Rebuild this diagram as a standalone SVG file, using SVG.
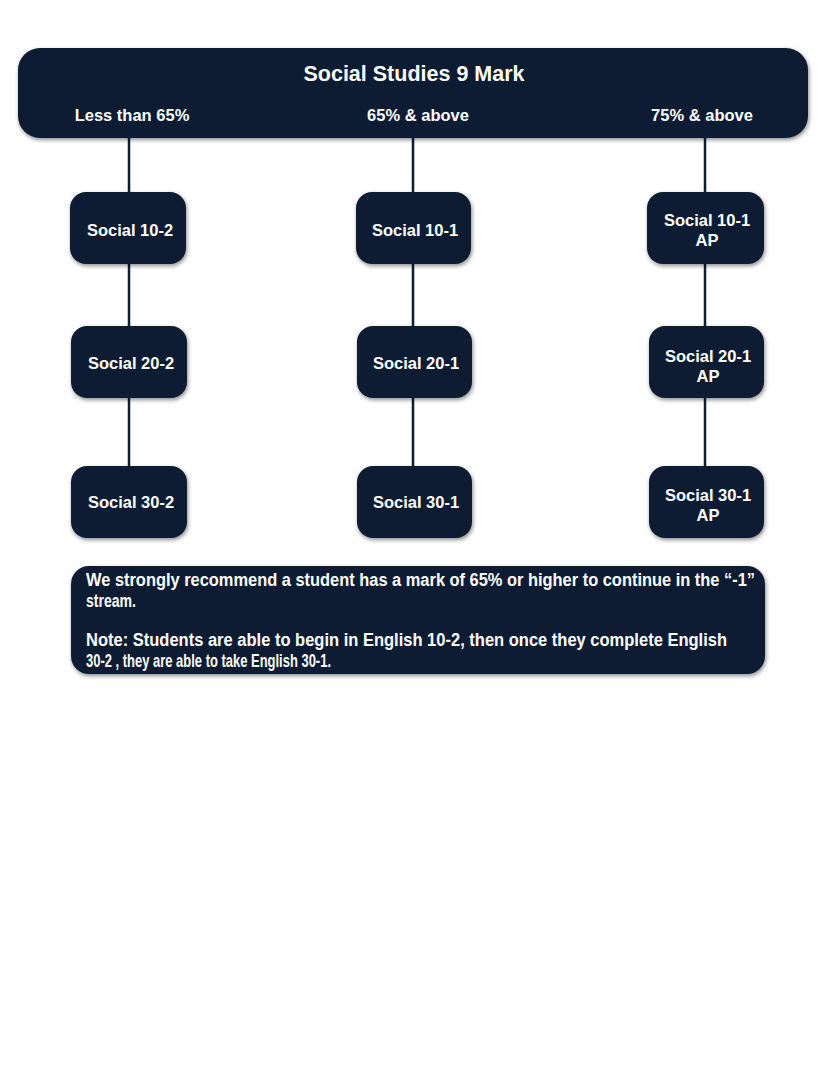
<svg xmlns="http://www.w3.org/2000/svg" width="830" height="1074" viewBox="0 0 830 1074">
<defs>
<filter id="sh" x="-10%" y="-10%" width="120%" height="130%">
<feDropShadow dx="1" dy="2" stdDeviation="2" flood-color="#000" flood-opacity="0.45"/>
</filter>
</defs>
<style>
.box{fill:#0f1e33;filter:url(#sh)}
.t{font-family:"Liberation Sans",Arial,sans-serif;font-weight:bold;fill:#fff;text-anchor:middle;font-size:16.5px}
.h{font-size:21.5px}
.n{font-family:"Liberation Sans",Arial,sans-serif;font-weight:bold;fill:#fff;font-size:18px}
.c{stroke:#0f1e33;stroke-width:2.5;fill:none}
</style>
<rect width="830" height="1074" fill="#fff"/>
<g id="connectors">
<path class="c" d="M129 138V192M129 264V326M129 398V466"/>
<path class="c" d="M413 138V192M413 264V326M413 398V466"/>
<path class="c" d="M705 138V192M705 264V326M705 398V466"/>
</g>
<g id="header">
<rect class="box" x="18" y="48" width="790" height="90" rx="22"/>
<text class="t h" x="414" y="81">Social Studies 9 Mark</text>
<text class="t" x="132" y="121">Less than 65%</text>
<text class="t" x="418" y="121">65% &amp; above</text>
<text class="t" x="702" y="121">75% &amp; above</text>
</g>
<g id="s102"><rect class="box" x="70" y="192" width="116" height="72" rx="16"/><text class="t" x="130" y="236">Social 10-2</text></g>
<g id="s202"><rect class="box" x="71" y="326" width="116" height="72" rx="16"/><text class="t" x="131" y="369">Social 20-2</text></g>
<g id="s302"><rect class="box" x="71" y="466" width="116" height="72" rx="16"/><text class="t" x="131" y="508">Social 30-2</text></g>
<g id="s101"><rect class="box" x="356" y="192" width="115" height="72" rx="16"/><text class="t" x="415" y="236">Social 10-1</text></g>
<g id="s201"><rect class="box" x="357" y="326" width="115" height="72" rx="16"/><text class="t" x="416" y="369">Social 20-1</text></g>
<g id="s301"><rect class="box" x="357" y="466" width="115" height="72" rx="16"/><text class="t" x="416" y="508">Social 30-1</text></g>
<g id="s101ap"><rect class="box" x="647" y="192" width="117" height="72" rx="16"/><text class="t" x="707" y="226">Social 10-1</text><text class="t" x="707" y="246">AP</text></g>
<g id="s201ap"><rect class="box" x="649" y="326" width="115" height="72" rx="16"/><text class="t" x="708" y="362">Social 20-1</text><text class="t" x="708" y="382">AP</text></g>
<g id="s301ap"><rect class="box" x="649" y="466" width="115" height="72" rx="16"/><text class="t" x="708" y="501">Social 30-1</text><text class="t" x="708" y="521">AP</text></g>
<g id="note">
<rect class="box" x="71" y="566" width="694" height="108" rx="18"/>
<text class="n" x="86" y="586" textLength="669" lengthAdjust="spacingAndGlyphs">We strongly recommend a student has a mark of 65% or higher to continue in the “-1”</text>
<text class="n" x="86" y="607" textLength="50" lengthAdjust="spacingAndGlyphs">stream.</text>
<text class="n" x="86" y="646" textLength="641" lengthAdjust="spacingAndGlyphs">Note:  Students are able to begin in English 10-2, then once they complete English</text>
<text class="n" x="86" y="667" textLength="245" lengthAdjust="spacingAndGlyphs">30-2 , they are able to take English 30-1.</text>
</g>
</svg>
